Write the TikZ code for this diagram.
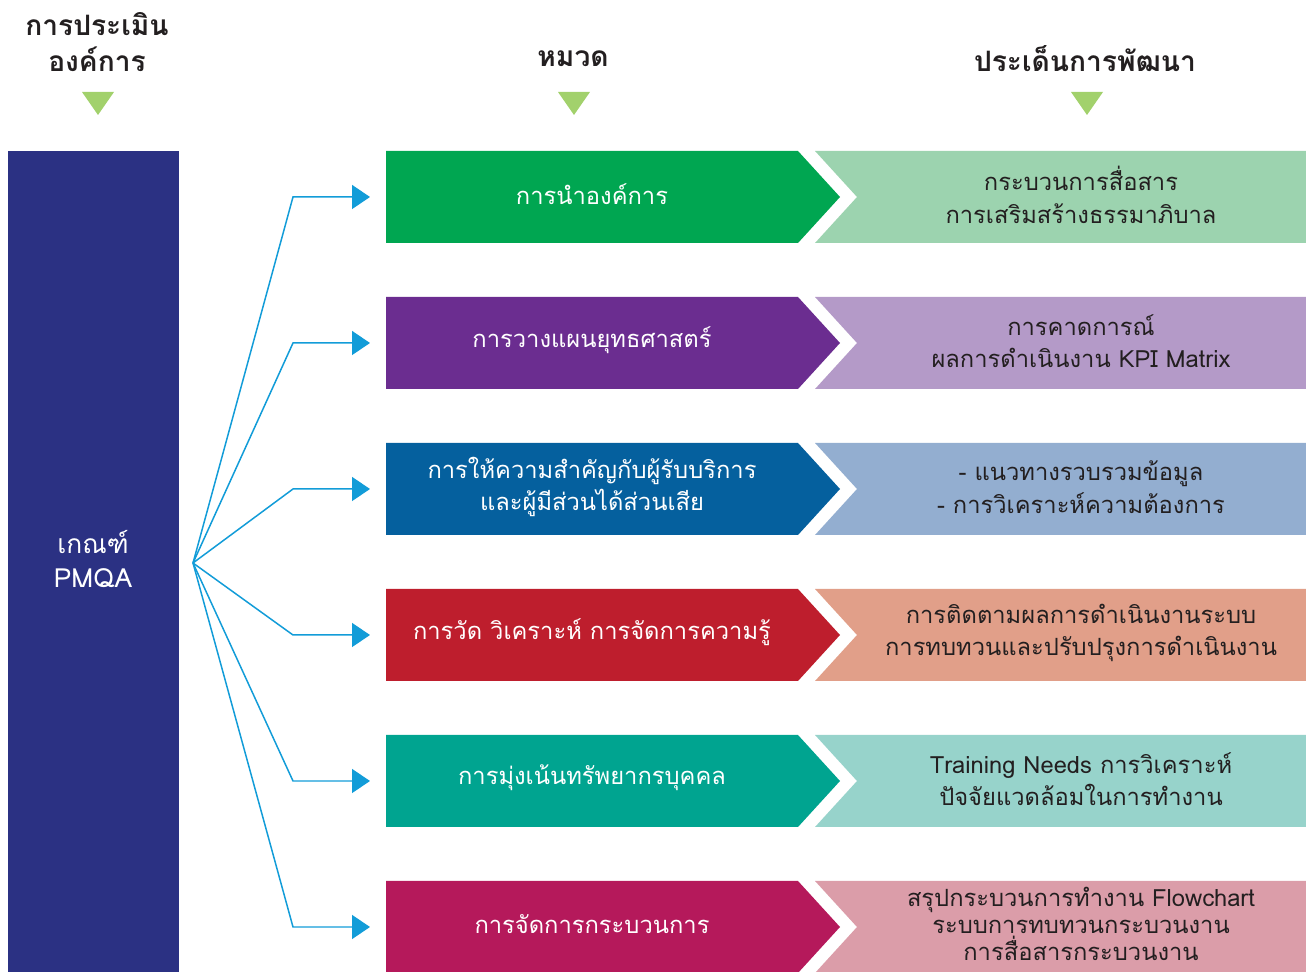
\documentclass[tikz,border=0pt]{standalone}
\usepackage{fontspec}
\setmainfont[Script=Thai]{Loma}
\usetikzlibrary{arrows.meta}

\definecolor{pmqablue}{HTML}{2B3183}
\definecolor{linkblue}{HTML}{129CD8}
\definecolor{headgreen}{HTML}{A2D16C}
\definecolor{inkgrey}{HTML}{231F20}
\definecolor{leadA}{HTML}{00A651}
\definecolor{noteA}{HTML}{9CD3AF}
\definecolor{leadB}{HTML}{6B2D90}
\definecolor{noteB}{HTML}{B49AC8}
\definecolor{leadC}{HTML}{05609E}
\definecolor{noteC}{HTML}{93AED0}
\definecolor{leadD}{HTML}{BE1E2D}
\definecolor{noteD}{HTML}{E19F89}
\definecolor{leadE}{HTML}{00A490}
\definecolor{noteE}{HTML}{97D3CB}
\definecolor{leadF}{HTML}{B5195B}
\definecolor{noteF}{HTML}{DB9DA9}

\tikzset{
  headtext/.style={font=\fontsize{16}{20}\selectfont\bfseries, text=inkgrey, align=center},
  leadtext/.style={font=\fontsize{13.5}{18.5}\selectfont, text=white, align=center},
  notetext/.style={font=\fontsize{13.5}{18.5}\selectfont, text=inkgrey, align=center},
  link/.style={draw=linkblue, line width=0.85pt, -{Triangle[length=0.36cm,width=0.48cm]}},
}

\begin{document}
\begin{tikzpicture}[x=0.02cm,y=-0.02cm]
\useasboundingbox (0,0) rectangle (1306,972);

\def\rowh{92}
\def\tipx{840}
\def\leadbox#1#2{\fill[#2] (386,#1) -- (798,#1) -- (\tipx,#1+0.5*\rowh) -- (798,#1+\rowh) -- (386,#1+\rowh) -- cycle;}
\def\notebox#1#2{\fill[#2] (815,#1) -- (1306,#1) -- (1306,#1+\rowh) -- (815,#1+\rowh) -- (857,#1+0.5*\rowh) -- cycle;}

% headings
\node[headtext] (headorg) at (97,42) {การประเมิน\\องค์การ};
\node[headtext] (headcat) at (573,59) {หมวด};
\node[headtext] (headdev) at (1085,59) {ประเด็นการพัฒนา};
\fill[headgreen] (82,92) -- (114,92) -- (98,115) -- cycle;
\fill[headgreen] (558,92) -- (590,92) -- (574,115) -- cycle;
\fill[headgreen] (1071,92) -- (1103,92) -- (1087,115) -- cycle;

% criteria bar
\fill[pmqablue] (8,151) rectangle (179,972);
\node[font=\fontsize{15}{19}\selectfont, text=white, align=center] (pmqa) at (93,559) {เกณฑ์\\PMQA};

% categories and topics
\leadbox{151}{leadA}
\notebox{151}{noteA}
\node[leadtext] (leadA) at (592,194) {การนำองค์การ};
\node[notetext] (noteA) at (1081,195) {กระบวนการสื่อสาร\\การเสริมสร้างธรรมาภิบาล};

\leadbox{297}{leadB}
\notebox{297}{noteB}
\node[leadtext] (leadB) at (592,340) {การวางแผนยุทธศาสตร์};
\node[notetext] (noteB) at (1081,341) {การคาดการณ์\\ผลการดำเนินงาน KPI Matrix};

\leadbox{443}{leadC}
\notebox{443}{noteC}
\node[leadtext] (leadC) at (592,487) {การให้ความสำคัญกับผู้รับบริการ\\และผู้มีส่วนได้ส่วนเสีย};
\node[notetext] (noteC) at (1081,487) {- แนวทางรวบรวมข้อมูล\\- การวิเคราะห์ความต้องการ};

\leadbox{589}{leadD}
\notebox{589}{noteD}
\node[leadtext] (leadD) at (592,632) {การวัด วิเคราะห์ การจัดการความรู้};
\node[notetext] (noteD) at (1081,633) {การติดตามผลการดำเนินงานระบบ\\การทบทวนและปรับปรุงการดำเนินงาน};

\leadbox{735}{leadE}
\notebox{735}{noteE}
\node[leadtext] (leadE) at (592,778) {การมุ่งเน้นทรัพยากรบุคคล};
\node[notetext] (noteE) at (1081,779) {Training Needs การวิเคราะห์\\ปัจจัยแวดล้อมในการทำงาน};

\leadbox{881}{leadF}
\notebox{881}{noteF}
\node[leadtext] (leadF) at (592,924) {การจัดการกระบวนการ};
\node[notetext, font=\fontsize{13.5}{15.5}\selectfont] (noteF) at (1081,924) {สรุปกระบวนการทำงาน Flowchart\\ระบบการทบทวนกระบวนงาน\\การสื่อสารกระบวนงาน};

% fan of connectors
\coordinate (hub) at (193,563);
\coordinate (tipA) at (370,197);
\coordinate (tipB) at (370,343);
\coordinate (tipC) at (370,489);
\coordinate (tipD) at (370,635);
\coordinate (tipE) at (370,781);
\coordinate (tipF) at (370,927);
\draw[link] (hub) -- (293,197) -- (tipA);
\draw[link] (hub) -- (293,343) -- (tipB);
\draw[link] (hub) -- (293,489) -- (tipC);
\draw[link] (hub) -- (293,635) -- (tipD);
\draw[link] (hub) -- (293,781) -- (tipE);
\draw[link] (hub) -- (293,927) -- (tipF);

\end{tikzpicture}
\end{document}
